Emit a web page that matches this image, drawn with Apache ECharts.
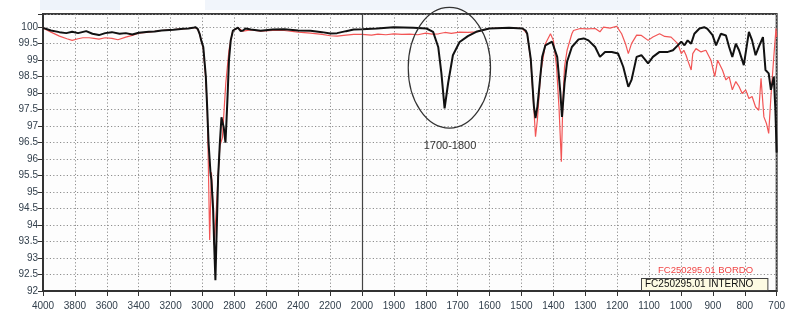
<!DOCTYPE html>
<html>
<head>
<meta charset="utf-8">
<script src="https://cdn.jsdelivr.net/npm/echarts@6/dist/echarts.min.js"></script>
<style>
  html, body { margin: 0; padding: 0; background: #fff; }
  #chart { width: 788px; height: 318px; }
</style>
</head>
<body>
<div id="chart"></div>
<script>
// wavenumber (cm-1) / transmittance (%)
const borWn = [4000, 3950, 3897, 3850, 3817, 3780, 3750, 3711, 3680, 3649, 3610, 3568, 3530, 3481, 3440, 3400, 3337, 3257, 3182, 3089, 3045, 3030, 3018, 3008, 2995, 2979, 2970, 2964, 2955, 2950, 2944, 2933, 2927, 2913, 2902, 2891, 2875, 2867, 2854, 2842, 2834, 2823, 2809, 2778, 2746, 2697, 2635, 2560, 2487, 2400, 2323, 2250, 2199, 2156, 2100, 2052, 2000, 1970, 1950, 1925, 1900, 1875, 1850, 1825, 1800, 1780, 1760, 1740, 1720, 1694, 1668, 1642, 1601, 1539, 1497, 1482, 1471, 1461, 1456, 1450, 1440, 1425, 1409, 1400, 1390, 1382, 1375, 1370, 1365, 1357, 1342, 1337, 1316, 1295, 1269, 1254, 1243, 1222, 1202, 1186, 1174, 1165, 1155, 1139, 1124, 1103, 1088, 1067, 1051, 1031, 1010, 999, 991, 984, 979, 968, 963, 953, 937, 922, 906, 894, 885, 870, 859, 849, 839, 828, 818, 808, 797, 787, 777, 766, 756, 749, 740, 732, 725, 718, 709, 702, 700];
const borT = [99.98, 99.85, 99.73, 99.65, 99.6, 99.65, 99.68, 99.68, 99.66, 99.64, 99.68, 99.66, 99.62, 99.7, 99.75, 99.82, 99.85, 99.9, 99.93, 99.96, 99.99, 99.94, 99.8, 99.6, 99.35, 98.4, 97.5, 96.0, 93.55, 94.5, 95.6, 94.5, 93.4, 94.5, 95.5, 96.4, 96.65, 97.3, 98.3, 98.9, 99.3, 99.6, 99.9, 99.98, 99.88, 99.92, 99.88, 99.9, 99.9, 99.85, 99.82, 99.78, 99.74, 99.73, 99.76, 99.78, 99.78, 99.76, 99.79, 99.77, 99.8, 99.78, 99.79, 99.77, 99.82, 99.79, 99.8, 99.84, 99.81, 99.85, 99.84, 99.86, 99.96, 99.98, 99.96, 99.8, 99.0, 97.5, 96.68, 97.2, 98.6, 99.5, 99.8, 99.6, 98.8, 97.5, 95.92, 97.8, 98.8, 99.3, 99.8, 99.9, 99.96, 99.95, 99.96, 99.86, 100.0, 99.97, 100.03, 99.8, 99.5, 99.2, 99.5, 99.76, 99.75, 99.6, 99.7, 99.8, 99.72, 99.7, 99.5, 99.2, 99.3, 99.15, 99.0, 98.7, 99.2, 99.35, 99.25, 99.3, 99.0, 98.5, 99.0, 98.7, 98.4, 98.5, 98.1, 98.35, 98.2, 97.99, 98.1, 97.84, 97.9, 97.58, 97.48, 98.45, 97.28, 97.08, 96.78, 97.89, 99.1, 99.96, 99.7];

const intWn = [4000, 3950, 3897, 3854, 3817, 3780, 3729, 3690, 3649, 3610, 3568, 3520, 3481, 3440, 3400, 3337, 3300, 3257, 3182, 3120, 3089, 3060, 3045, 3030, 3018, 3008, 2995, 2979, 2970, 2962, 2950, 2944, 2933, 2927, 2919, 2913, 2902, 2891, 2881, 2875, 2867, 2856, 2850, 2842, 2834, 2823, 2809, 2778, 2760, 2746, 2730, 2697, 2635, 2560, 2487, 2400, 2323, 2250, 2199, 2156, 2100, 2052, 2000, 1953, 1901, 1839, 1798, 1777, 1761, 1751, 1741, 1730, 1715, 1694, 1668, 1642, 1601, 1539, 1497, 1487, 1482, 1471, 1461, 1456, 1450, 1445, 1435, 1425, 1404, 1388, 1378, 1373, 1365, 1357, 1342, 1321, 1305, 1290, 1269, 1254, 1238, 1217, 1197, 1181, 1165, 1155, 1139, 1124, 1103, 1088, 1067, 1041, 1025, 1010, 999, 989, 979, 968, 958, 942, 927, 917, 901, 890, 875, 859, 849, 839, 828, 818, 803, 787, 777, 766, 756, 743, 735, 725, 718, 709, 704, 700];
const intT = [99.98, 99.9, 99.85, 99.82, 99.86, 99.82, 99.88, 99.8, 99.76, 99.82, 99.85, 99.8, 99.82, 99.78, 99.83, 99.86, 99.87, 99.9, 99.92, 99.95, 99.96, 99.98, 100.0, 99.95, 99.8, 99.6, 99.4, 98.5, 97.5, 96.5, 95.6, 95.36, 94.45, 93.45, 92.33, 93.45, 95.45, 96.5, 97.27, 97.33, 96.97, 96.5, 97.1, 98.0, 99.0, 99.6, 99.9, 99.99, 99.88, 99.9, 99.96, 99.93, 99.89, 99.93, 99.94, 99.9, 99.89, 99.85, 99.81, 99.82, 99.88, 99.93, 99.94, 99.96, 100.0, 99.98, 99.96, 99.86, 99.4, 98.6, 97.54, 98.3, 99.15, 99.55, 99.73, 99.86, 99.96, 99.98, 99.96, 99.9, 99.8, 99.05, 97.6, 97.24, 97.6, 98.1, 99.1, 99.45, 99.56, 99.1, 98.0, 97.28, 98.3, 98.95, 99.4, 99.63, 99.66, 99.6, 99.4, 99.1, 99.25, 99.25, 99.2, 98.8, 98.19, 98.4, 99.1, 99.15, 98.9, 99.1, 99.25, 99.25, 99.3, 99.45, 99.56, 99.45, 99.6, 99.5, 99.8, 99.96, 100.0, 99.95, 99.76, 99.45, 99.8, 99.75, 99.4, 99.1, 99.5, 99.3, 98.85, 99.86, 99.6, 99.15, 99.4, 99.7, 98.7, 98.6, 98.1, 98.5, 97.5, 96.2];

// x axis: 4000-2000 in steps of 200, then 2000-700 in steps of 100, same spacing
const breakWn = 2000;
function toU(wn) {
  return wn >= breakWn ? (4000 - wn) / 200 : 10 + (breakWn - wn) / 100;
}
function toWn(u) {
  return u <= 10 ? 4000 - 200 * u : breakWn - 100 * (u - 10);
}

const chart = echarts.init(document.getElementById('chart'));
const labelColor = '#33404d';
const gridLine = { show: true, lineStyle: { color: '#8e8e8e', width: 1, type: [1.2, 2.2] } };

const option = {
  backgroundColor: '#ffffff',
  animation: false,
  textStyle: { fontFamily: 'Liberation Sans' },
  grid: {
    left: 43, top: 14, width: 740, height: 277,
    show: true, backgroundColor: '#fdfdfd', borderColor: '#3a3a3a', borderWidth: 2
  },
  xAxis: {
    type: 'value', min: 0, max: 23, interval: 1,
    axisLine: { lineStyle: { color: '#333', width: 2 } },
    axisTick: { length: 5, lineStyle: { color: '#333' } },
    axisLabel: {
      color: labelColor, fontSize: 10, margin: 10,
      formatter: u => String(Math.round(toWn(u)))
    },
    splitLine: gridLine
  },
  yAxis: {
    type: 'value', min: 92, max: 100.4, interval: 0.5,
    axisLine: { show: true, lineStyle: { color: '#333', width: 2 } },
    axisTick: { show: true, length: 5, lineStyle: { color: '#333' } },
    axisLabel: {
      color: labelColor, fontSize: 10, margin: 5,
      formatter: v => Math.abs(v * 2 - Math.round(v * 2)) < 1e-6 ? String(+v.toFixed(1)) : ''
    },
    splitLine: gridLine
  },
  legend: {
    orient: 'vertical', left: 632, top: 260, itemGap: 3,
    itemWidth: 0, itemHeight: 10, selectedMode: false,
    textStyle: { fontSize: 10 },
    data: [
      { name: 'FC250295.01 BORDO', icon: 'rect',
        textStyle: { color: '#f04545', fontSize: 9.5, padding: [0, 0, 0, 16] } },
      { name: 'FC250295.01 INTERNO', icon: 'rect',
        textStyle: { color: '#111', backgroundColor: '#fdfbe3', borderColor: '#444',
                     borderWidth: 1, padding: [1, 14, 0, 3] } }
    ]
  },
  series: [
    {
      name: 'FC250295.01 BORDO', type: 'line', showSymbol: false, symbol: 'none',
      data: borWn.map((w, i) => [toU(w), borT[i]]),
      lineStyle: { color: '#f25555', width: 1.2 },
      itemStyle: { color: '#f25555' },
      markLine: {
        silent: true, symbol: 'none', label: { show: false },
        lineStyle: { color: '#444', width: 1.2, type: 'solid' },
        data: [{ xAxis: toU(breakWn) }]
      }
    },
    {
      name: 'FC250295.01 INTERNO', type: 'line', showSymbol: false, symbol: 'none',
      data: intWn.map((w, i) => [toU(w), intT[i]]),
      lineStyle: { color: '#111111', width: 2 },
      itemStyle: { color: '#111111' }
    }
  ]
};
chart.setOption(option);

// circled region 1700-1800 and its caption, placed in data coordinates
const p1 = chart.convertToPixel({ seriesIndex: 0 }, [toU(1855), 100.6]);
const p2 = chart.convertToPixel({ seriesIndex: 0 }, [toU(1597), 96.94]);
const pt = chart.convertToPixel({ seriesIndex: 0 }, [toU(1724), 96.39]);
chart.setOption({
  graphic: [
    { type: 'rect', shape: { x: 40, y: 0, width: 80, height: 10 }, style: { fill: '#eef3fa' }, silent: true },
    { type: 'rect', shape: { x: 205, y: 0, width: 435, height: 10 }, style: { fill: '#f1f5fb' }, silent: true },
    {
      type: 'ellipse', silent: true, z: 100,
      shape: { cx: (p1[0] + p2[0]) / 2, cy: (p1[1] + p2[1]) / 2,
               rx: (p2[0] - p1[0]) / 2, ry: (p2[1] - p1[1]) / 2 },
      style: { fill: 'none', stroke: '#333', lineWidth: 1.2 }
    },
    {
      type: 'text', silent: true, z: 100, x: pt[0], y: pt[1],
      style: { text: '1700-1800', fill: '#333', font: '11px "Liberation Sans"',
               align: 'center', verticalAlign: 'middle' }
    }
  ]
});
</script>
</body>
</html>
